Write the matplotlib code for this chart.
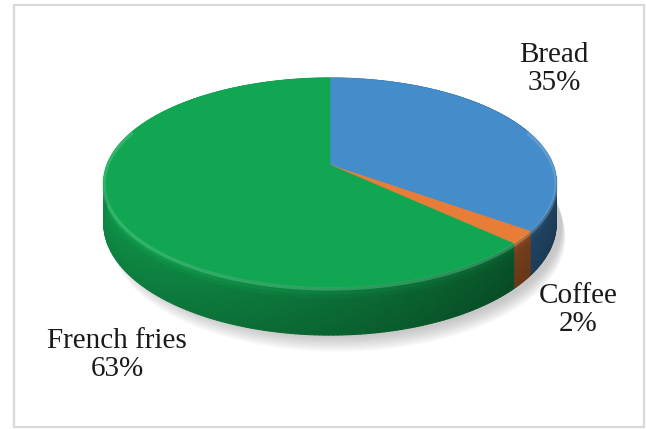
import matplotlib.pyplot as plt
import numpy as np
from matplotlib.collections import PolyCollection
from matplotlib.patches import Polygon, Rectangle
from matplotlib.colors import to_rgb

labels = ['Bread', 'Coffee', 'French fries']
shares = [35, 2, 63]
colors = ['#448cca', '#e87d37', '#11a652']
label_xy = [(554, 69), (578, 310), (117, 355)]

W, H = 646, 429
cx, cy = 330, 165      # pie centre on the top face
sx, sy = 223, 101.6    # radii before perspective
k = 0.1675             # perspective strength
depth = 40             # thickness of the disc


def proj(phi, z=0.0):
    u, v = np.cos(phi), np.sin(phi)
    w = 1 + k * v
    return cx + sx * u / w, cy - sy * v / w + z / w


def side_shade(phi):
    # lighter on the left, darker to the right, small sheen on the far right
    f = 0.66 - 0.22 * np.cos(phi)
    f += 0.14 * np.exp(-((np.rad2deg(phi) % 360 - 3) / 15) ** 2)
    return f


fig = plt.figure(figsize=(6.46, 4.29), dpi=100)
ax = fig.add_axes([0, 0, 1, 1])
ax.set_xlim(0, W)
ax.set_ylim(H, 0)
ax.axis('off')

ax.add_patch(Rectangle((14, 5), 630, 422, fill=False, ec='#d9d9d9', lw=1.6))

frac = np.array(shares) / sum(shares)
edges = np.pi / 2 - 2 * np.pi * np.concatenate([[0], np.cumsum(frac)])

# soft shadow under the disc
phi = np.linspace(0, 2 * np.pi, 400)
for i in range(14):
    x, y = proj(phi, depth + 1 + i * 1.0)
    x = cx + 8 + (x - cx) * (0.99 + 0.0012 * i)
    ax.add_patch(Polygon(np.column_stack([x, y]), closed=True,
                         fc='#808080', ec='none', alpha=0.035, zorder=1))

# rim of each slice
polys, fcs = [], []
nh = 12
for j, c in enumerate(colors):
    base = np.array(to_rgb(c))
    n = max(4, int(abs(edges[j] - edges[j + 1]) / np.deg2rad(1)))
    ph = np.linspace(edges[j], edges[j + 1], n + 1)
    for a0, a1 in zip(ph[:-1], ph[1:]):
        f = side_shade(0.5 * (a0 + a1))
        for h in range(nh):
            z0, z1 = depth * h / nh, depth * (h + 1) / nh
            x00, y00 = proj(a0, z0)
            x10, y10 = proj(a1, z0)
            x11, y11 = proj(a1, z1)
            x01, y01 = proj(a0, z1)
            polys.append([(x00, y00), (x10, y10), (x11, y11), (x01, y01)])
            t = h / (nh - 1)
            g = 1.22 - 0.9 * t if t < 0.25 else 1.0 - 0.12 * (t - 0.25)
            fcs.append(np.clip(base * f * g, 0, 1))
ax.add_collection(PolyCollection(polys, facecolors=fcs, edgecolors=fcs,
                                 linewidths=0.8, zorder=2))

# top face
for j, c in enumerate(colors):
    ph = np.linspace(edges[j], edges[j + 1], 200)
    x, y = proj(ph)
    pts = np.vstack([[cx, cy], np.column_stack([x, y])])
    ax.add_patch(Polygon(pts, closed=True, fc=c, ec=c, lw=0.5, zorder=3))
    # light bevel along the front edge
    front = ph[np.sin(ph) < 0.35]
    if len(front) > 1:
        bx, by = proj(front, 1.5)
        light = np.clip(np.array(to_rgb(c)) * 0.6 + 0.4, 0, 1)
        ax.plot(bx, by, color=light, lw=2.5, alpha=0.35, zorder=4,
                solid_capstyle='butt')

for name, share, (tx, ty) in zip(labels, shares, label_xy):
    ax.text(tx, ty, f'{name}\n{share}%', ha='center', va='center',
            multialignment='center', fontsize=21, linespacing=1.1,
            family='Liberation Serif', color='#1a1a1a', zorder=5)

fig.savefig('out.png', dpi=100)
